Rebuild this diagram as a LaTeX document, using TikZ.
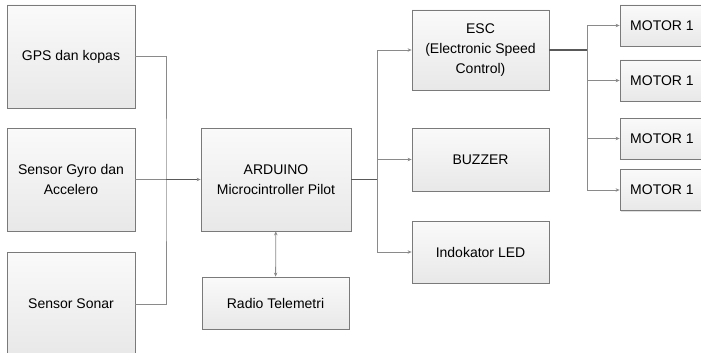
\documentclass[tikz,border=0pt]{standalone}
\usepackage{fontspec}
\setmainfont{Liberation Sans}
\definecolor{LineGray}{HTML}{8A8A8A}
\definecolor{BoxEdge}{HTML}{7A7A7A}
\usetikzlibrary{arrows.meta, positioning, calc, shadows}

\begin{document}
\begin{tikzpicture}[x=1pt, y=-1pt,
    box/.style={draw=BoxEdge, line width=0.8pt, top color=gray!4, bottom color=gray!18, align=center,
        font=\fontsize{14}{20}\selectfont, inner sep=2pt,
        drop shadow={shadow xshift=1.2pt, shadow yshift=-1.2pt, opacity=0.25}},
    arr/.style={-{Stealth[length=4pt, width=3.5pt]}, line width=0.8pt, LineGray},
    biarr/.style={{Stealth[length=4pt, width=3.5pt]}-{Stealth[length=4pt, width=3.5pt]}, line width=0.8pt, LineGray},
    ln/.style={line width=0.8pt, LineGray},
    bus/.style={line width=1.4pt, black!65}
  ]
  \useasboundingbox (0,0) rectangle (701,353);
  \clip (0,0) rectangle (701,353);

  % sensor
  \node[box, minimum width=128pt, minimum height=103pt] (gps) at (71, 56.5) {GPS dan kopas};
  \node[box, minimum width=128pt, minimum height=103pt] (gyro) at (71, 179.5) {Sensor Gyro dan\\Accelero};
  \node[box, minimum width=128pt, minimum height=104pt] (sonar) at (71, 304) {Sensor Sonar};

  % kontroler
  \node[box, minimum width=150pt, minimum height=103pt] (arduino) at (276, 179.5) {ARDUINO\\Microcintroller Pilot};
  \node[box, minimum width=147pt, minimum height=52pt] (radio) at (275.5, 303) {Radio Telemetri};

  % keluaran
  \node[box, minimum width=137pt, minimum height=80pt] (esc) at (480.5, 50) {ESC\\(Electronic Speed\\Control)};
  \node[box, minimum width=137pt, minimum height=63pt] (buzzer) at (480.5, 159.5) {BUZZER};
  \node[box, minimum width=137pt, minimum height=62pt] (led) at (480.5, 252) {Indokator LED};

  \node[box, minimum width=84pt, minimum height=41pt] (m1) at (662, 25.5) {MOTOR 1};
  \node[box, minimum width=84pt, minimum height=41pt] (m2) at (662, 80.5) {MOTOR 1};
  \node[box, minimum width=84pt, minimum height=41pt] (m3) at (662, 138.5) {MOTOR 1};
  \node[box, minimum width=84pt, minimum height=41pt] (m4) at (662, 190) {MOTOR 1};

  \coordinate (busL) at (166, 179.5);
  \coordinate (busM) at (377, 179.5);
  \coordinate (busR) at (587, 50);

  \draw[ln] (gps.east) -| (busL) |- (sonar.east);
  \draw[arr] (gyro) -- (arduino);
  \draw[bus] (busL) -- ($(arduino.west)+(-4,0)$);
  \draw[biarr] (arduino) -- (radio);

  \draw[bus] (arduino.east) -- (busM);
  \draw[arr] (busM) |- (esc.west);
  \draw[arr] (busM) |- (buzzer.west);
  \draw[arr] (busM) |- (led.west);

  \draw[bus] (esc.east) -- (busR);
  \draw[arr] (busR) |- (m1.west);
  \draw[arr] (busR) |- (m2.west);
  \draw[arr] (busR) |- (m3.west);
  \draw[arr] (busR) |- (m4.west);
\end{tikzpicture}
\end{document}
